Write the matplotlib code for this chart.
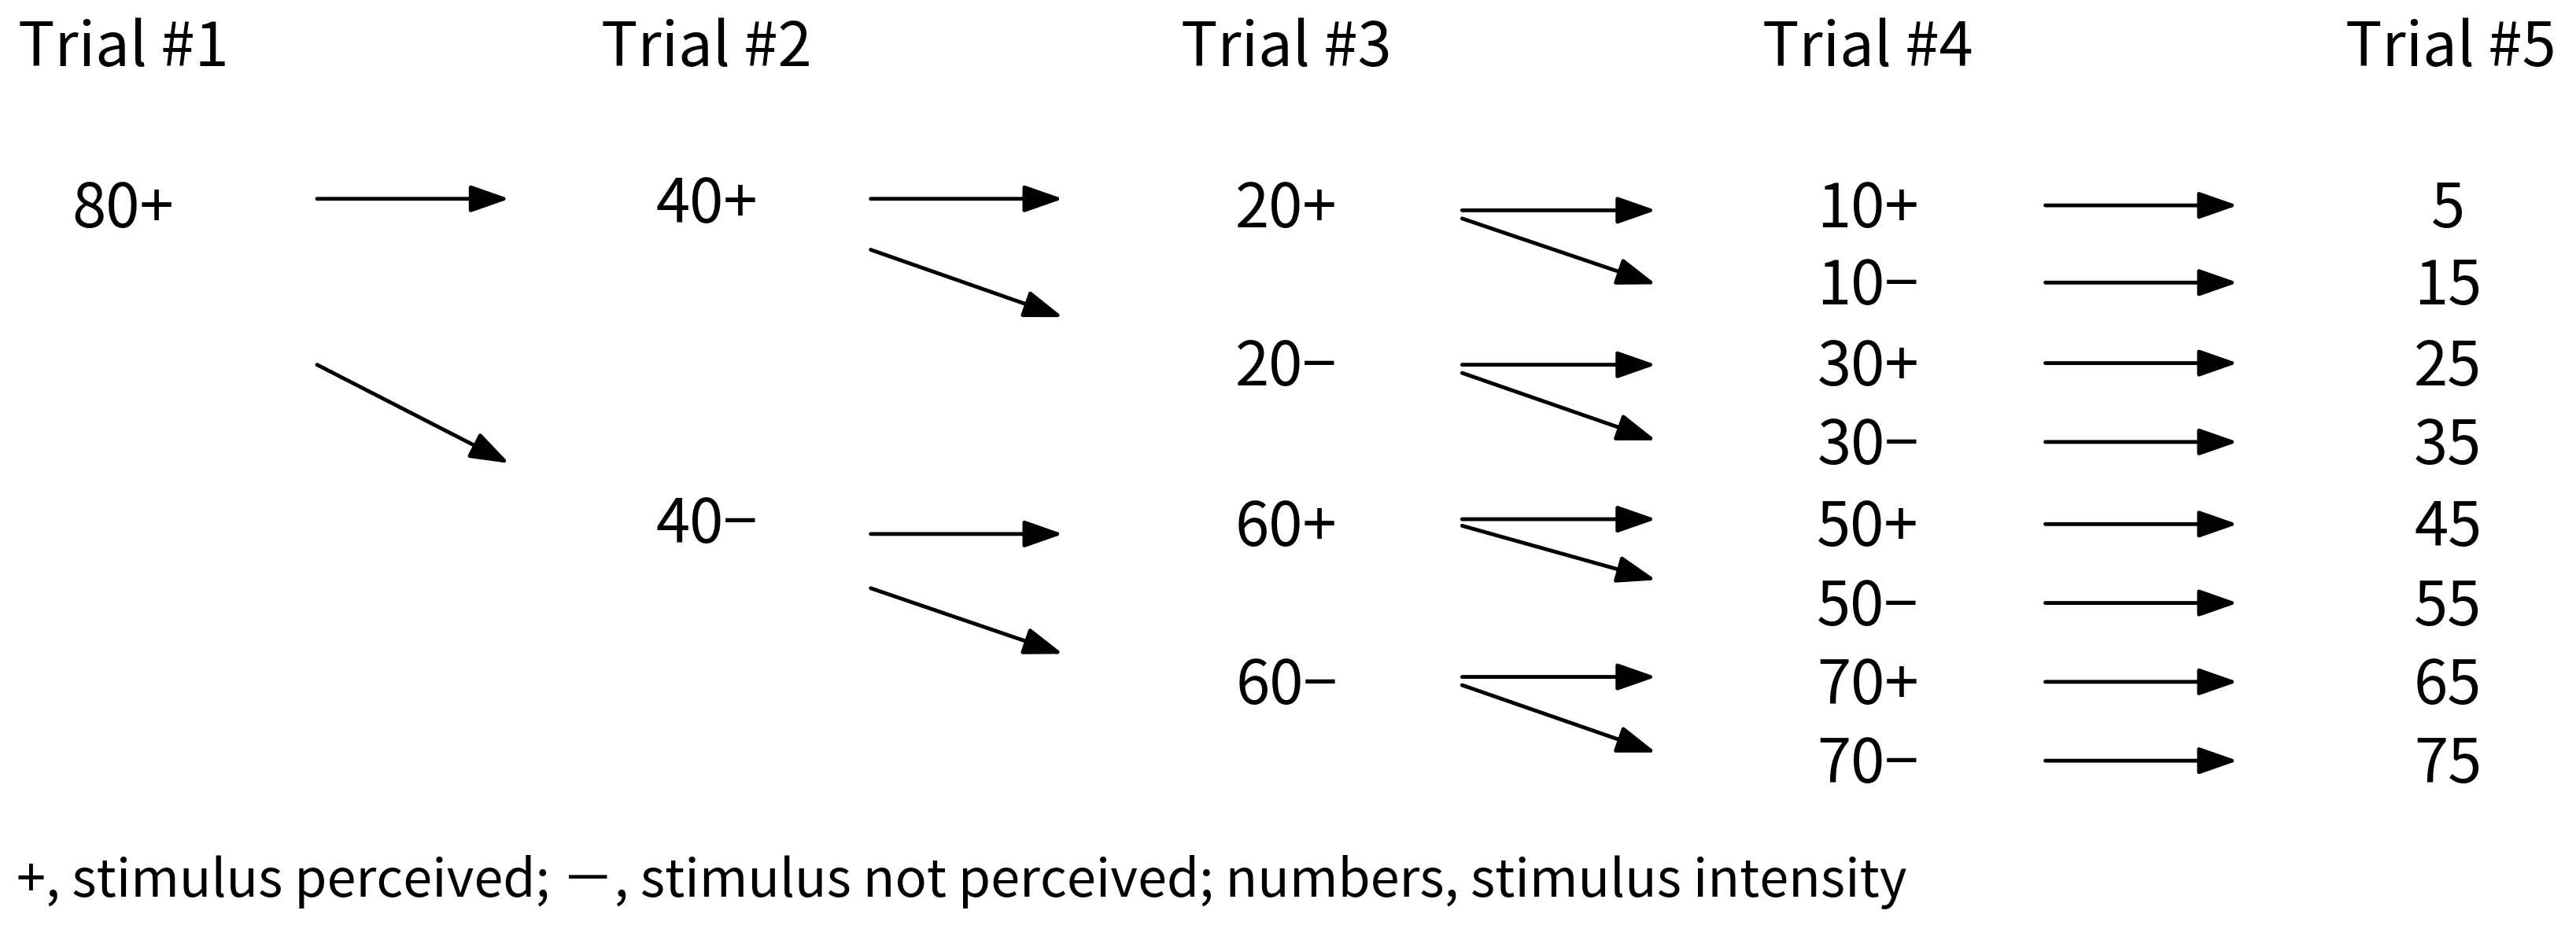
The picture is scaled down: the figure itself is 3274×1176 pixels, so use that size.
import matplotlib.pyplot as plt

plt.rcParams['font.family'] = ['Noto Sans CJK JP', 'DejaVu Sans']

# column headers and their x positions (picture units, 1568 x 563, y down)
trials = ['Trial #1', 'Trial #2', 'Trial #3', 'Trial #4', 'Trial #5']
trial_x = [75, 430, 783, 1137, 1492]

# node labels per trial column
col1 = ['80+']
col1_y = [128]
col2 = ['40+', '40\u2212']
col2_y = [125, 320]
col3 = ['20+', '20\u2212', '60+', '60\u2212']
col3_y = [128, 224, 322, 418]
col4 = ['10+', '10\u2212', '30+', '30\u2212', '50+', '50\u2212', '70+', '70\u2212']
col4_y = [128, 175, 224, 272, 322, 370, 418, 466]
col5 = ['5', '15', '25', '35', '45', '55', '65', '75']
col5_y = col4_y

# arrows: (x0, y0, x1, y1)
arrows = [
    (193, 121, 310, 121), (193, 222, 310, 282),
    (530, 121, 647, 121), (530, 152, 647, 193),
    (530, 325, 647, 325), (530, 358, 647, 398),
    (890, 128, 1008, 128), (890, 133, 1008, 173),
    (890, 222, 1008, 222), (890, 227, 1008, 268),
    (890, 316, 1008, 316), (890, 320, 1008, 353),
    (890, 412, 1008, 412), (890, 417, 1008, 458),
]
arrows += [(1245, y - 3, 1362, y - 3) for y in col4_y]

footnote = '+, stimulus perceived; \uff0d, stimulus not perceived; numbers, stimulus intensity'

fig = plt.figure(figsize=(32.74, 11.76), dpi=100)
ax = fig.add_axes([0, 0, 1, 1])
ax.set_xlim(0, 1568)
ax.set_ylim(563, 0)
ax.axis('off')

fs = 56
for t, x in zip(trials, trial_x):
    ax.text(x, 30, t, ha='center', va='center', fontsize=fs)

for labels, ys, x in [(col1, col1_y, 75), (col2, col2_y, 430), (col3, col3_y, 783),
                      (col4, col4_y, 1137), (col5, col5_y, 1490)]:
    for lab, y in zip(labels, ys):
        ax.text(x, y, lab, ha='center', va='center', fontsize=fs)

for x0, y0, x1, y1 in arrows:
    ax.annotate('', xy=(x1, y1), xytext=(x0, y0),
                arrowprops=dict(arrowstyle='-|>,head_length=1.0,head_width=0.35',
                                color='black', lw=3.5, mutation_scale=30,
                                shrinkA=0, shrinkB=0))

ax.text(10, 537, footnote, ha='left', va='center', fontsize=48)

fig.savefig('out.png', dpi=100)
